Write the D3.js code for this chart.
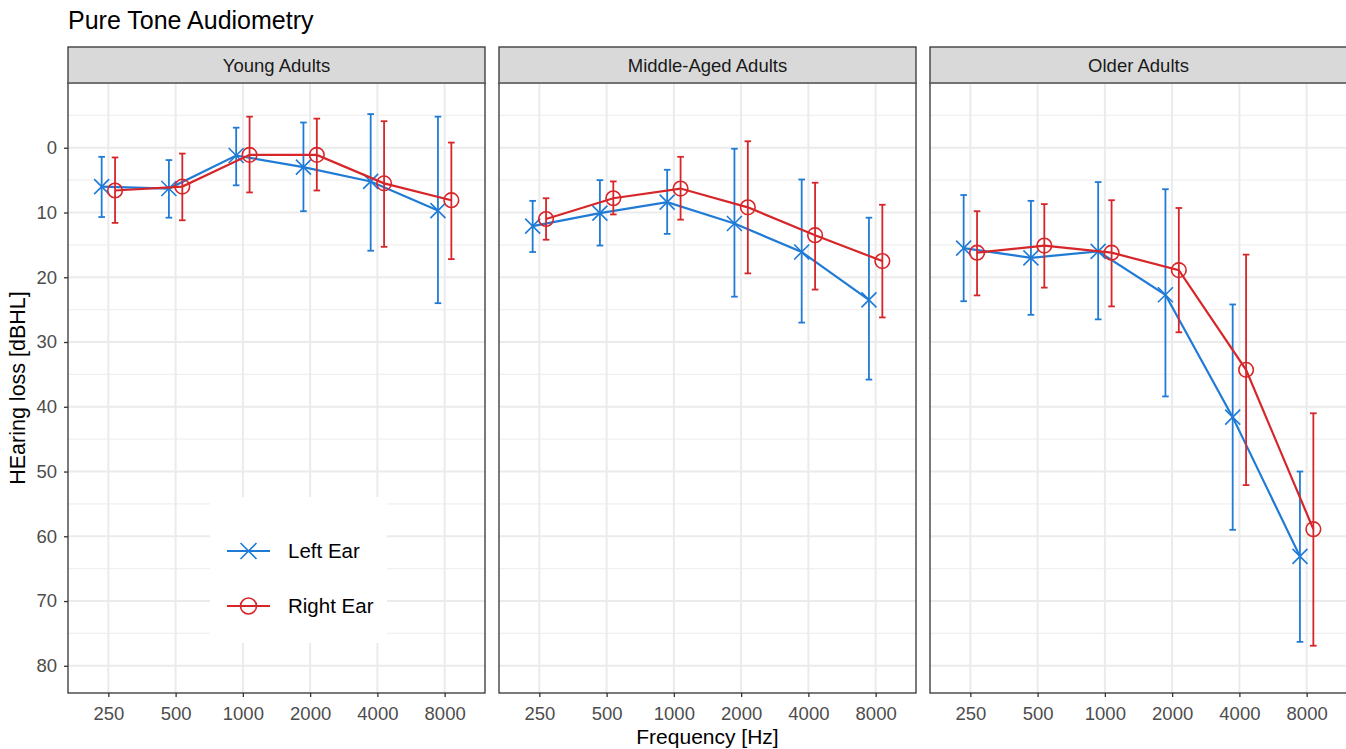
<!DOCTYPE html>
<html><head><meta charset="utf-8">
<script src="https://cdn.jsdelivr.net/npm/d3@7"></script>
<style>body{margin:0;background:#fff;} svg{display:block;font-family:"Liberation Sans",Arial,sans-serif;}</style>
</head><body><svg id="c" width="1346" height="749"></svg>
<script>
const groups = ["Young Adults", "Middle-Aged Adults", "Older Adults"];
const freqs = ["250", "500", "1000", "2000", "4000", "8000"];
const ears = ["Left Ear", "Right Ear"];
const yTicks = [0, 10, 20, 30, 40, 50, 60, 70, 80];
// mean, lower, upper per group per frequency
const leftMean = [[6.0, 6.3, 1.2, 3.0, 5.2, 9.7],[12.1, 10.1, 8.4, 11.7, 16.1, 23.5],[15.5, 17.0, 16.0, 22.7, 41.6, 63.1]];
const leftLow  = [[1.4, 1.9, -3.1, -3.9, -5.2, -4.8],[8.2, 5.0, 3.4, 0.15, 4.9, 10.8],[7.3, 8.2, 5.3, 6.4, 24.2, 50.0]];
const leftHigh = [[10.7, 10.8, 5.8, 9.8, 15.9, 24.0],[16.1, 15.1, 13.3, 23.0, 27.0, 35.8],[23.7, 25.8, 26.5, 38.4, 59.0, 76.3]];
const rightMean = [[6.6, 6.0, 1.1, 1.1, 5.5, 8.1],[11.0, 7.8, 6.3, 9.2, 13.5, 17.5],[16.2, 15.1, 16.2, 18.9, 34.3, 58.9]];
const rightLow  = [[1.5, 0.9, -4.8, -4.5, -4.1, -0.8],[7.8, 5.2, 1.4, -1.0, 5.4, 8.8],[9.8, 8.7, 8.1, 9.3, 16.5, 41.0]];
const rightHigh = [[11.6, 11.2, 6.9, 6.6, 15.3, 17.2],[14.2, 10.3, 11.1, 19.4, 21.9, 26.2],[22.8, 21.6, 24.5, 28.5, 52.1, 76.9]];

const colors = {"Left Ear": "#1f7bd6", "Right Ear": "#d7262a"};
const svg = d3.select("#c");
const panelTop = 83, panelBottom = 693, panelW = 417;
const panelX = [68, 499, 930];
const FONT = "Liberation Sans, Arial, sans-serif";

const y = d3.scaleLinear().domain([-10, 84.2]).range([panelTop, panelBottom]);
const x = d3.scalePoint().domain(freqs).range([0, panelW]).padding(0.6);
const dodge = 6.7;

// Title
svg.append("text").attr("x", 68).attr("y", 29).attr("font-size", 25).attr("fill", "#000").text("Pure Tone Audiometry");

function crossPath(s){ return `M${-s},${-s}L${s},${s}M${-s},${s}L${s},${-s}`; }

groups.forEach((g, gi) => {
  const px = panelX[gi];
  const p = svg.append("g").attr("transform", `translate(${px},0)`);
  // strip
  p.append("rect").attr("x", 0).attr("y", 47).attr("width", panelW).attr("height", panelTop - 47)
    .attr("fill", "#d9d9d9").attr("stroke", "#333").attr("stroke-width", 1.3);
  p.append("text").attr("x", panelW / 2).attr("y", 71.5).attr("text-anchor", "middle")
    .attr("font-size", 18.5).attr("fill", "#1a1a1a").text(g);
  // panel bg
  p.append("rect").attr("x", 0).attr("y", panelTop).attr("width", panelW).attr("height", panelBottom - panelTop).attr("fill", "#fff");
  // minor grid
  const minor = d3.range(-5, 84, 10);
  p.selectAll(".mn").data(minor).join("line").attr("x1", 0).attr("x2", panelW)
    .attr("y1", d => y(d)).attr("y2", d => y(d)).attr("stroke", "#f0f0f0").attr("stroke-width", 1.2);
  p.selectAll(".mj").data([-10].concat(yTicks)).join("line").attr("x1", 0).attr("x2", panelW)
    .attr("y1", d => y(d)).attr("y2", d => y(d)).attr("stroke", "#ebebeb").attr("stroke-width", 2);
  p.selectAll(".vx").data(freqs).join("line").attr("x1", d => x(d)).attr("x2", d => x(d))
    .attr("y1", panelTop).attr("y2", panelBottom).attr("stroke", "#ebebeb").attr("stroke-width", 2);

  // legend background in first panel (drawn before data)
  if (gi === 0) {
    p.append("rect").attr("x", 210 - px).attr("y", 497).attr("width", 177).attr("height", 146).attr("fill", "#fff");
  }

  const series = [
    {ear: "Left Ear", m: leftMean[gi], lo: leftLow[gi], hi: leftHigh[gi], off: -dodge},
    {ear: "Right Ear", m: rightMean[gi], lo: rightLow[gi], hi: rightHigh[gi], off: dodge}
  ];
  series.forEach(s => {
    const col = colors[s.ear];
    const pts = freqs.map((f, i) => ({f, m: s.m[i], lo: s.lo[i], hi: s.hi[i], cx: x(f) + s.off}));
    const eb = p.append("g").attr("stroke", col).attr("stroke-width", 1.8).attr("fill", "none");
    pts.forEach(d => {
      eb.append("line").attr("x1", d.cx).attr("x2", d.cx).attr("y1", y(d.lo)).attr("y2", y(d.hi));
      eb.append("line").attr("x1", d.cx - 3.3).attr("x2", d.cx + 3.3).attr("y1", y(d.lo)).attr("y2", y(d.lo));
      eb.append("line").attr("x1", d.cx - 3.3).attr("x2", d.cx + 3.3).attr("y1", y(d.hi)).attr("y2", y(d.hi));
    });
    p.append("path").datum(pts).attr("fill", "none").attr("stroke", col).attr("stroke-width", 2.2)
      .attr("d", d3.line().x(d => d.cx).y(d => y(d.m)));
    pts.forEach(d => {
      if (s.ear === "Left Ear") {
        p.append("path").attr("transform", `translate(${d.cx},${y(d.m)})`).attr("d", crossPath(7.5))
          .attr("stroke", col).attr("stroke-width", 1.6).attr("fill", "none");
      } else {
        p.append("circle").attr("cx", d.cx).attr("cy", y(d.m)).attr("r", 7.3)
          .attr("stroke", col).attr("stroke-width", 1.6).attr("fill", "none");
      }
    });
  });

  // panel border
  p.append("rect").attr("x", 0).attr("y", panelTop).attr("width", panelW).attr("height", panelBottom - panelTop)
    .attr("fill", "none").attr("stroke", "#333").attr("stroke-width", 1.3);

  // x axis
  const xa = p.append("g").attr("transform", `translate(0,${panelBottom})`)
    .call(d3.axisBottom(x).tickSize(4).tickPadding(10));
  xa.select(".domain").remove();
  xa.selectAll("line").attr("stroke", "#333").attr("stroke-width", 1.3);
  xa.selectAll("text").attr("font-size", 18.5).attr("fill", "#4d4d4d").attr("font-family", FONT);
});

// y axis (first panel only)
const ya = svg.append("g").attr("transform", `translate(${panelX[0]},0)`)
  .call(d3.axisLeft(y).tickValues(yTicks).tickSize(4).tickPadding(7));
ya.select(".domain").remove();
ya.selectAll("line").attr("stroke", "#333").attr("stroke-width", 1.3);
ya.selectAll("text").attr("font-size", 18.5).attr("fill", "#4d4d4d").attr("font-family", FONT);

// axis titles
svg.append("text").attr("transform", `translate(25,${(panelTop + panelBottom) / 2}) rotate(-90)`)
  .attr("text-anchor", "middle").attr("font-size", 21.5).attr("fill", "#000").text("HEaring loss [dBHL]");
svg.append("text").attr("x", (panelX[0] + panelX[2] + panelW) / 2).attr("y", 744).attr("text-anchor", "middle")
  .attr("font-size", 21).attr("fill", "#000").text("Frequency [Hz]");

// legend
const lg = svg.append("g");
ears.forEach((e, i) => {
  const ly = 551 + i * 55;
  const col = colors[e];
  lg.append("line").attr("x1", 227).attr("x2", 270).attr("y1", ly).attr("y2", ly).attr("stroke", col).attr("stroke-width", 2.2);
  if (i === 0) {
    lg.append("path").attr("transform", `translate(248.5,${ly})`).attr("d", crossPath(8)).attr("stroke", col).attr("stroke-width", 1.6).attr("fill", "none");
  } else {
    lg.append("circle").attr("cx", 248.5).attr("cy", ly).attr("r", 8).attr("stroke", col).attr("stroke-width", 1.6).attr("fill", "none");
  }
  lg.append("text").attr("x", 288).attr("y", ly + 7).attr("font-size", 20.5).attr("fill", "#000").text(e);
});
</script></body></html>
